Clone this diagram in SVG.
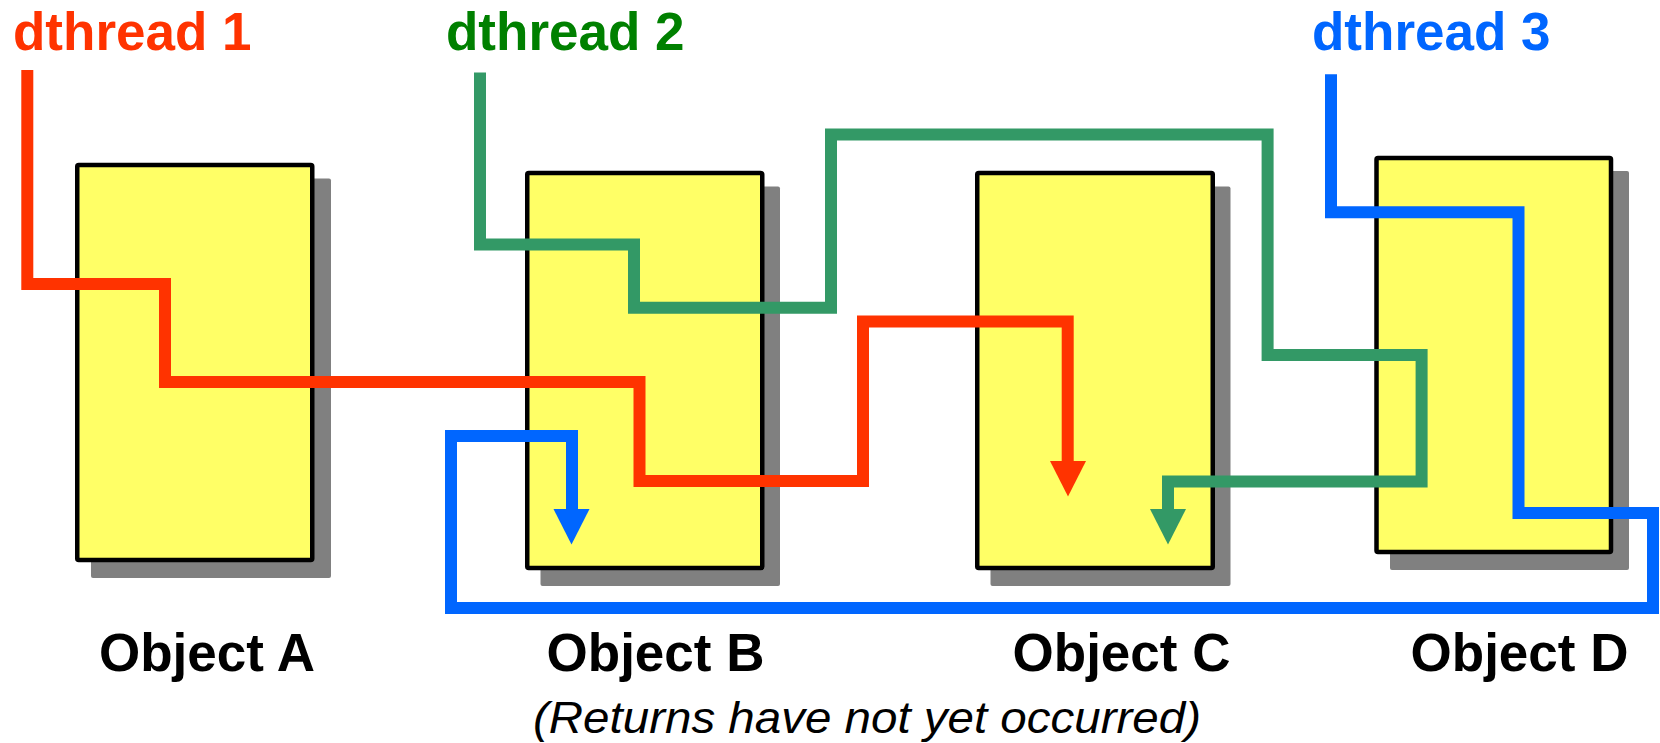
<svg xmlns="http://www.w3.org/2000/svg" width="1660" height="743" viewBox="0 0 1660 743">
<style>
.shadow{fill:#808080;}
.box{fill:#FFFF66;stroke:#000;stroke-width:4.5;}
.lbl{font-family:"Liberation Sans",Arial,sans-serif;font-weight:bold;font-size:53px;fill:#000;text-anchor:middle;}
.thr{font-family:"Liberation Sans",Arial,sans-serif;font-weight:bold;font-size:53px;}
.ln{fill:none;stroke-width:12;stroke-linejoin:miter;stroke-linecap:butt;}
</style>
<rect width="1660" height="743" fill="#fff"/>
<g id="objectA">
<rect class="shadow" x="91" y="178.5" width="240" height="399.5" rx="2"/>
<rect class="box" x="77.25" y="165" width="235" height="395" rx="1.5"/>
<text class="lbl" x="207" y="671">Object A</text>
</g>
<g id="objectB">
<rect class="shadow" x="540.5" y="186.5" width="239.5" height="399.5" rx="2"/>
<rect class="box" x="527.25" y="173" width="235" height="395" rx="1.5"/>
<text class="lbl" x="655.5" y="671">Object B</text>
</g>
<g id="objectC">
<rect class="shadow" x="990.5" y="186.5" width="240" height="399.5" rx="2"/>
<rect class="box" x="977.25" y="173" width="235.5" height="395" rx="1.5"/>
<text class="lbl" x="1121.5" y="671">Object C</text>
</g>
<g id="objectD">
<rect class="shadow" x="1390" y="171" width="239" height="399" rx="2"/>
<rect class="box" x="1376.5" y="158" width="234.5" height="394" rx="1.5"/>
<text class="lbl" x="1519.5" y="671">Object D</text>
</g>
<g id="connectors">
<path class="ln" stroke="#FF3300" d="M27.3,70 V284 H165 V382 H639.5 V481 H863 V321.4 H1067.7 V462"/>
<polygon fill="#FF3300" points="1050,461 1086,461 1068,496.5"/>
<path class="ln" stroke="#339966" d="M480,72.5 V244.5 H634 V307.7 H831 V134.5 H1267.6 V355 H1421.6 V481.4 H1168 V510"/>
<polygon fill="#339966" points="1150,509 1186,509 1168,544.6"/>
<path class="ln" stroke="#0066FF" d="M1331,74.3 V212.3 H1518.5 V513 H1653 V608 H451 V436 H572 V510"/>
<polygon fill="#0066FF" points="553.5,509 589.5,509 571.5,544.6"/>
</g>
<g id="threadLabels">
<text class="thr" x="13" y="50" fill="#FF3300">dthread 1</text>
<text class="thr" x="446" y="50" fill="#008000">dthread 2</text>
<text class="thr" x="1312" y="50" fill="#0066FF">dthread 3</text>
</g>
<text x="533" y="733" font-family="'Liberation Sans',Arial,sans-serif" font-style="italic" font-size="45" textLength="668" lengthAdjust="spacingAndGlyphs" fill="#000">(Returns have not yet occurred)</text>
</svg>
